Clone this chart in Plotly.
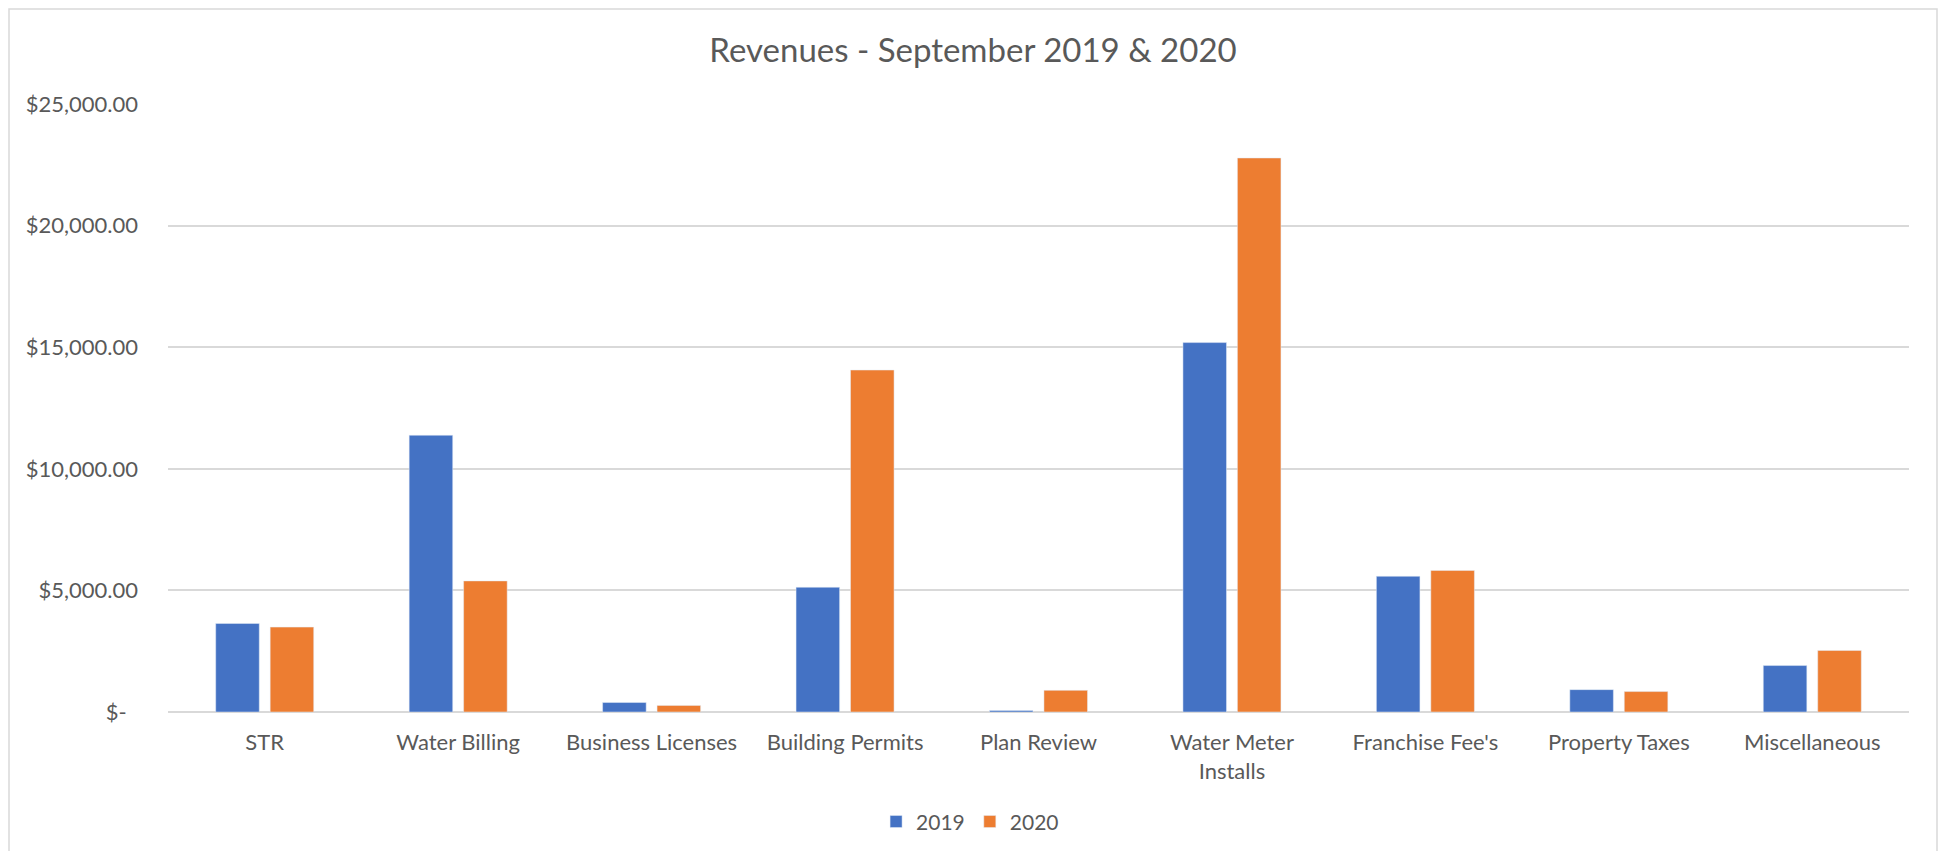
import plotly.graph_objects as go

categories = ['STR', 'Water Billing', 'Business Licenses', 'Building Permits', 'Plan Review',
              'Water Meter<br>Installs', "Franchise Fee's", 'Property Taxes', 'Miscellaneous']
rev_2019 = [3640, 11380, 390, 5130, 60, 15190, 5580, 920, 1910]
rev_2020 = [3490, 5390, 270, 14060, 890, 22780, 5820, 840, 2530]

tick_vals = [0, 5000, 10000, 15000, 20000, 25000]
tick_text = ['$-', '$5,000.00', '$10,000.00', '$15,000.00', '$20,000.00', '$25,000.00']

FONT = 'Lato, Open Sans, sans-serif'
GREY = '#595959'
GRID = '#d9d9d9'

# the accounting format leaves some room after "$-"
tick_text = [t + '\u00a0\u00a0' if t == '$-' else t for t in tick_text]

# page has an 8px body margin, so the figure is 16px smaller than the window
W, H = 1930, 843
L, R, T, B = 160, 29, 96, 139

fig = go.Figure()
fig.add_trace(go.Bar(x=categories, y=rev_2019, name='2019', marker_color='#4472C4'))
fig.add_trace(go.Bar(x=categories, y=rev_2020, name='2020', marker_color='#ED7D31'))

fig.update_layout(
    width=W, height=H,
    paper_bgcolor='white', plot_bgcolor='white',
    margin=dict(l=L, r=R, t=T, b=B, autoexpand=False),
    barmode='group', bargap=0.437, bargroupgap=0.2,
    font=dict(family=FONT, color=GREY, size=22),
    title=dict(text='Revenues - September 2019 & 2020', x=0.5, xanchor='center',
               y=1 - 42 / H, yanchor='middle', yref='container',
               font=dict(family=FONT, size=33, color=GREY)),
    legend=dict(orientation='h', x=0.4607, xanchor='center', y=-0.1807, yanchor='middle',
                font=dict(size=21, color=GREY), itemwidth=30, traceorder='normal'),
    showlegend=True,
)
fig.update_xaxes(showgrid=False, showline=False, ticks='', automargin=False,
                 tickfont=dict(size=22, color=GREY), ticklabelstandoff=15)
fig.update_yaxes(range=[0, 25000], tickvals=tick_vals, ticktext=tick_text, automargin=False,
                 showgrid=True, gridcolor=GRID, gridwidth=1.5,
                 zeroline=True, zerolinecolor=GRID, zerolinewidth=1.5,
                 showline=False, ticks='', ticklabelstandoff=29,
                 tickfont=dict(size=22, color=GREY))

# chart border
pw = W - L - R
ph = H - T - B
fig.add_shape(type='rect', xref='paper', yref='paper',
              x0=(1 - L) / pw, x1=(W - 1 - L) / pw,
              y0=(ph + T - H - 20) / ph, y1=(ph + T - 1) / ph,
              line=dict(color=GRID, width=1.5), fillcolor='rgba(0,0,0,0)', layer='below')

fig.write_html('out.html')
